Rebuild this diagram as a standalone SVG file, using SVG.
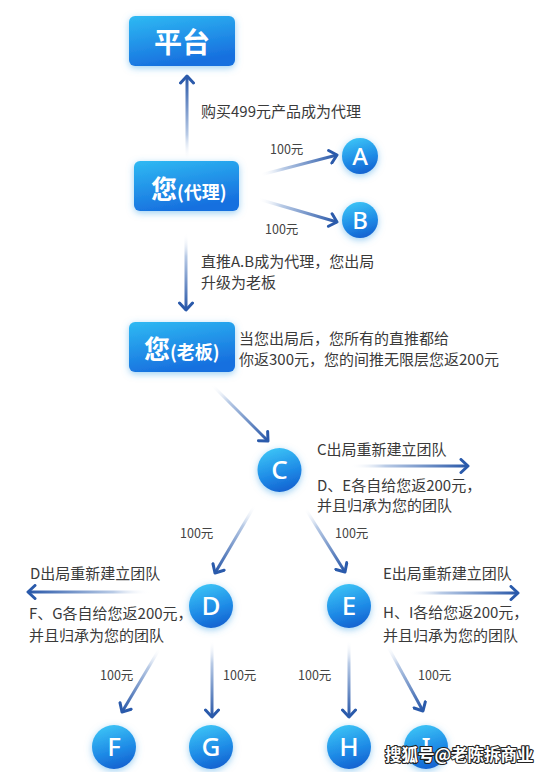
<svg xmlns="http://www.w3.org/2000/svg" width="538" height="772" viewBox="0 0 538 772">
<style>
.box{fill:url(#boxg);filter:url(#glow)}
.nd{fill:url(#cirg);filter:url(#glow)}
.bt{font-family:"Noto Sans CJK SC","Noto Sans",sans-serif;font-weight:bold;fill:#fff}
.lt{font-family:"Noto Sans",Roboto,"Liberation Sans",sans-serif;font-weight:500;fill:#fff;text-anchor:middle}
.tx{font-family:"Noto Sans CJK SC",sans-serif;font-size:15px;fill:#3a3a3a}
.mn{font-family:"Noto Sans CJK SC",sans-serif;font-size:12.5px;fill:#444}
.cn line{stroke-width:3;marker-end:url(#ah)}
.wm{font-family:"Noto Sans CJK SC",sans-serif;font-weight:bold;font-size:16.5px;fill:#fff;stroke:#222;stroke-width:2.2;paint-order:stroke;stroke-linejoin:round}
</style>
<defs>
<linearGradient id="boxg" x1="0" y1="0" x2="0.35" y2="1">
<stop offset="0" stop-color="#2fbaf3"/>
<stop offset="1" stop-color="#1770df"/>
</linearGradient>
<linearGradient id="cirg" x1="0.3" y1="0" x2="0.6" y2="1">
<stop offset="0" stop-color="#3cc4f6"/>
<stop offset="0.6" stop-color="#1e8ae6"/>
<stop offset="1" stop-color="#1462d0"/>
</linearGradient>
<filter id="glow" x="-40%" y="-40%" width="180%" height="180%">
<feDropShadow dx="0" dy="2" stdDeviation="3.5" flood-color="#4aa8e8" flood-opacity="0.55"/>
</filter>
<marker id="ah" viewBox="-10 -8 12 16" refX="0" refY="0" markerWidth="12" markerHeight="16" markerUnits="userSpaceOnUse" orient="auto">
<path d="M-7,-6.5 L0,0 L-7,6.5" fill="none" stroke="#2a5aab" stroke-width="3" stroke-linecap="round" stroke-linejoin="round"/>
</marker>
<linearGradient id="g1" gradientUnits="userSpaceOnUse" x1="187" y1="160" x2="187" y2="76"><stop offset="0" stop-color="#fff" stop-opacity="0"/><stop offset="0.3" stop-color="#b9cbe6"/><stop offset="1" stop-color="#2857a8"/></linearGradient>
<linearGradient id="g2" gradientUnits="userSpaceOnUse" x1="260" y1="175" x2="337" y2="155"><stop offset="0" stop-color="#fff" stop-opacity="0"/><stop offset="0.3" stop-color="#b9cbe6"/><stop offset="1" stop-color="#2857a8"/></linearGradient>
<linearGradient id="g3" gradientUnits="userSpaceOnUse" x1="258" y1="199" x2="337" y2="222"><stop offset="0" stop-color="#fff" stop-opacity="0"/><stop offset="0.3" stop-color="#b9cbe6"/><stop offset="1" stop-color="#2857a8"/></linearGradient>
<linearGradient id="g4" gradientUnits="userSpaceOnUse" x1="186" y1="233" x2="186" y2="310"><stop offset="0" stop-color="#fff" stop-opacity="0"/><stop offset="0.3" stop-color="#b9cbe6"/><stop offset="1" stop-color="#2857a8"/></linearGradient>
<linearGradient id="g5" gradientUnits="userSpaceOnUse" x1="212" y1="385" x2="268" y2="441"><stop offset="0" stop-color="#fff" stop-opacity="0"/><stop offset="0.3" stop-color="#b9cbe6"/><stop offset="1" stop-color="#2857a8"/></linearGradient>
<linearGradient id="g6" gradientUnits="userSpaceOnUse" x1="350" y1="466" x2="468" y2="466"><stop offset="0" stop-color="#fff" stop-opacity="0"/><stop offset="0.3" stop-color="#b9cbe6"/><stop offset="1" stop-color="#2857a8"/></linearGradient>
<linearGradient id="g7" gradientUnits="userSpaceOnUse" x1="255" y1="505" x2="215" y2="573"><stop offset="0" stop-color="#fff" stop-opacity="0"/><stop offset="0.3" stop-color="#b9cbe6"/><stop offset="1" stop-color="#2857a8"/></linearGradient>
<linearGradient id="g8" gradientUnits="userSpaceOnUse" x1="305" y1="508" x2="345" y2="572"><stop offset="0" stop-color="#fff" stop-opacity="0"/><stop offset="0.3" stop-color="#b9cbe6"/><stop offset="1" stop-color="#2857a8"/></linearGradient>
<linearGradient id="g9" gradientUnits="userSpaceOnUse" x1="150" y1="592" x2="28" y2="592"><stop offset="0" stop-color="#fff" stop-opacity="0"/><stop offset="0.3" stop-color="#b9cbe6"/><stop offset="1" stop-color="#2857a8"/></linearGradient>
<linearGradient id="g10" gradientUnits="userSpaceOnUse" x1="408" y1="593" x2="518" y2="593"><stop offset="0" stop-color="#fff" stop-opacity="0"/><stop offset="0.3" stop-color="#b9cbe6"/><stop offset="1" stop-color="#2857a8"/></linearGradient>
<linearGradient id="g11" gradientUnits="userSpaceOnUse" x1="160" y1="648" x2="122" y2="712"><stop offset="0" stop-color="#fff" stop-opacity="0"/><stop offset="0.3" stop-color="#b9cbe6"/><stop offset="1" stop-color="#2857a8"/></linearGradient>
<linearGradient id="g12" gradientUnits="userSpaceOnUse" x1="212" y1="640" x2="212" y2="717"><stop offset="0" stop-color="#fff" stop-opacity="0"/><stop offset="0.3" stop-color="#b9cbe6"/><stop offset="1" stop-color="#2857a8"/></linearGradient>
<linearGradient id="g13" gradientUnits="userSpaceOnUse" x1="349" y1="640" x2="349" y2="717"><stop offset="0" stop-color="#fff" stop-opacity="0"/><stop offset="0.3" stop-color="#b9cbe6"/><stop offset="1" stop-color="#2857a8"/></linearGradient>
<linearGradient id="g14" gradientUnits="userSpaceOnUse" x1="387" y1="645" x2="423" y2="711"><stop offset="0" stop-color="#fff" stop-opacity="0"/><stop offset="0.3" stop-color="#b9cbe6"/><stop offset="1" stop-color="#2857a8"/></linearGradient>
</defs>
<rect width="538" height="772" fill="#fff"/>

<g id="connectors" class="cn">
<line x1="187" y1="160" x2="187" y2="76" stroke="url(#g1)"/>
<line x1="260" y1="175" x2="337" y2="155" stroke="url(#g2)"/>
<line x1="258" y1="199" x2="337" y2="222" stroke="url(#g3)"/>
<line x1="186" y1="233" x2="186" y2="310" stroke="url(#g4)"/>
<line x1="212" y1="385" x2="268" y2="441" stroke="url(#g5)"/>
<line x1="350" y1="466" x2="468" y2="466" stroke="url(#g6)"/>
<line x1="255" y1="505" x2="215" y2="573" stroke="url(#g7)"/>
<line x1="305" y1="508" x2="345" y2="572" stroke="url(#g8)"/>
<line x1="150" y1="592" x2="28" y2="592" stroke="url(#g9)"/>
<line x1="408" y1="593" x2="518" y2="593" stroke="url(#g10)"/>
<line x1="160" y1="648" x2="122" y2="712" stroke="url(#g11)"/>
<line x1="212" y1="640" x2="212" y2="717" stroke="url(#g12)"/>
<line x1="349" y1="640" x2="349" y2="717" stroke="url(#g13)"/>
<line x1="387" y1="645" x2="423" y2="711" stroke="url(#g14)"/>
</g>

<g id="labels">
<text class="tx" x="201" y="117">购买499元产品成为代理</text>
<text class="mn" x="270" y="153.5">100元</text>
<text class="mn" x="265" y="233.5">100元</text>
<text class="tx" x="201" y="267">直推A.B成为代理，您出局</text>
<text class="tx" x="201" y="288">升级为老板</text>
<text class="tx" x="239" y="344">当您出局后，您所有的直推都给</text>
<text class="tx" x="239" y="365">你返300元，您的间推无限层您返200元</text>
<text class="tx" x="317" y="454.5">C出局重新建立团队</text>
<text class="tx" x="317" y="490.5">D、E各自给您返200元，</text>
<text class="tx" x="317" y="511">并且归承为您的团队</text>
<text class="mn" x="180" y="537.5">100元</text>
<text class="mn" x="335" y="537.5">100元</text>
<text class="tx" x="30" y="578.5">D出局重新建立团队</text>
<text class="tx" x="29" y="619">F、G各自给您返200元，</text>
<text class="tx" x="29" y="640.5">并且归承为您的团队</text>
<text class="tx" x="383" y="578.5">E出局重新建立团队</text>
<text class="tx" x="383" y="618">H、I各给您返200元，</text>
<text class="tx" x="383" y="640.5">并且归承为您的团队</text>
<text class="mn" x="100" y="679.5">100元</text>
<text class="mn" x="223" y="679.5">100元</text>
<text class="mn" x="298" y="679.5">100元</text>
<text class="mn" x="418" y="679.5">100元</text>
</g>

<g id="platform">
<rect class="box" x="129" y="16" width="106" height="50" rx="6"/>
<text class="bt" x="182" y="53" font-size="28" text-anchor="middle">平台</text>
</g>
<g id="you-agent">
<rect class="box" x="134" y="161" width="105" height="50" rx="6"/>
<text class="bt" x="151" y="199"><tspan font-size="26">您</tspan><tspan font-size="18">(代理)</tspan></text>
</g>
<g id="you-boss">
<rect class="box" x="129" y="322" width="106" height="50" rx="6"/>
<text class="bt" x="144" y="358.5"><tspan font-size="26">您</tspan><tspan font-size="18">(老板)</tspan></text>
</g>
<g id="node-A"><circle class="nd" cx="360" cy="156" r="18"/><text class="lt" x="360" y="164.5" font-size="24">A</text></g>
<g id="node-B"><circle class="nd" cx="360" cy="220" r="18"/><text class="lt" x="360" y="228.5" font-size="24">B</text></g>
<g id="node-C"><circle class="nd" cx="279.5" cy="470" r="22"/><text class="lt" x="279.5" y="479" font-size="26">C</text></g>
<g id="node-D"><circle class="nd" cx="211" cy="606" r="22"/><text class="lt" x="211" y="615" font-size="26">D</text></g>
<g id="node-E"><circle class="nd" cx="349" cy="606" r="22"/><text class="lt" x="349" y="615" font-size="26">E</text></g>
<g id="node-F"><circle class="nd" cx="114" cy="747" r="22"/><text class="lt" x="114" y="756" font-size="26">F</text></g>
<g id="node-G"><circle class="nd" cx="211" cy="747" r="22"/><text class="lt" x="211" y="756" font-size="26">G</text></g>
<g id="node-H"><circle class="nd" cx="349" cy="747" r="22"/><text class="lt" x="349" y="756" font-size="26">H</text></g>
<g id="node-I"><circle class="nd" cx="426" cy="747" r="22"/><text class="lt" x="426" y="756" font-size="26">I</text></g>

<text class="wm" x="385" y="761">搜狐号@老陈拆商业</text>
</svg>
